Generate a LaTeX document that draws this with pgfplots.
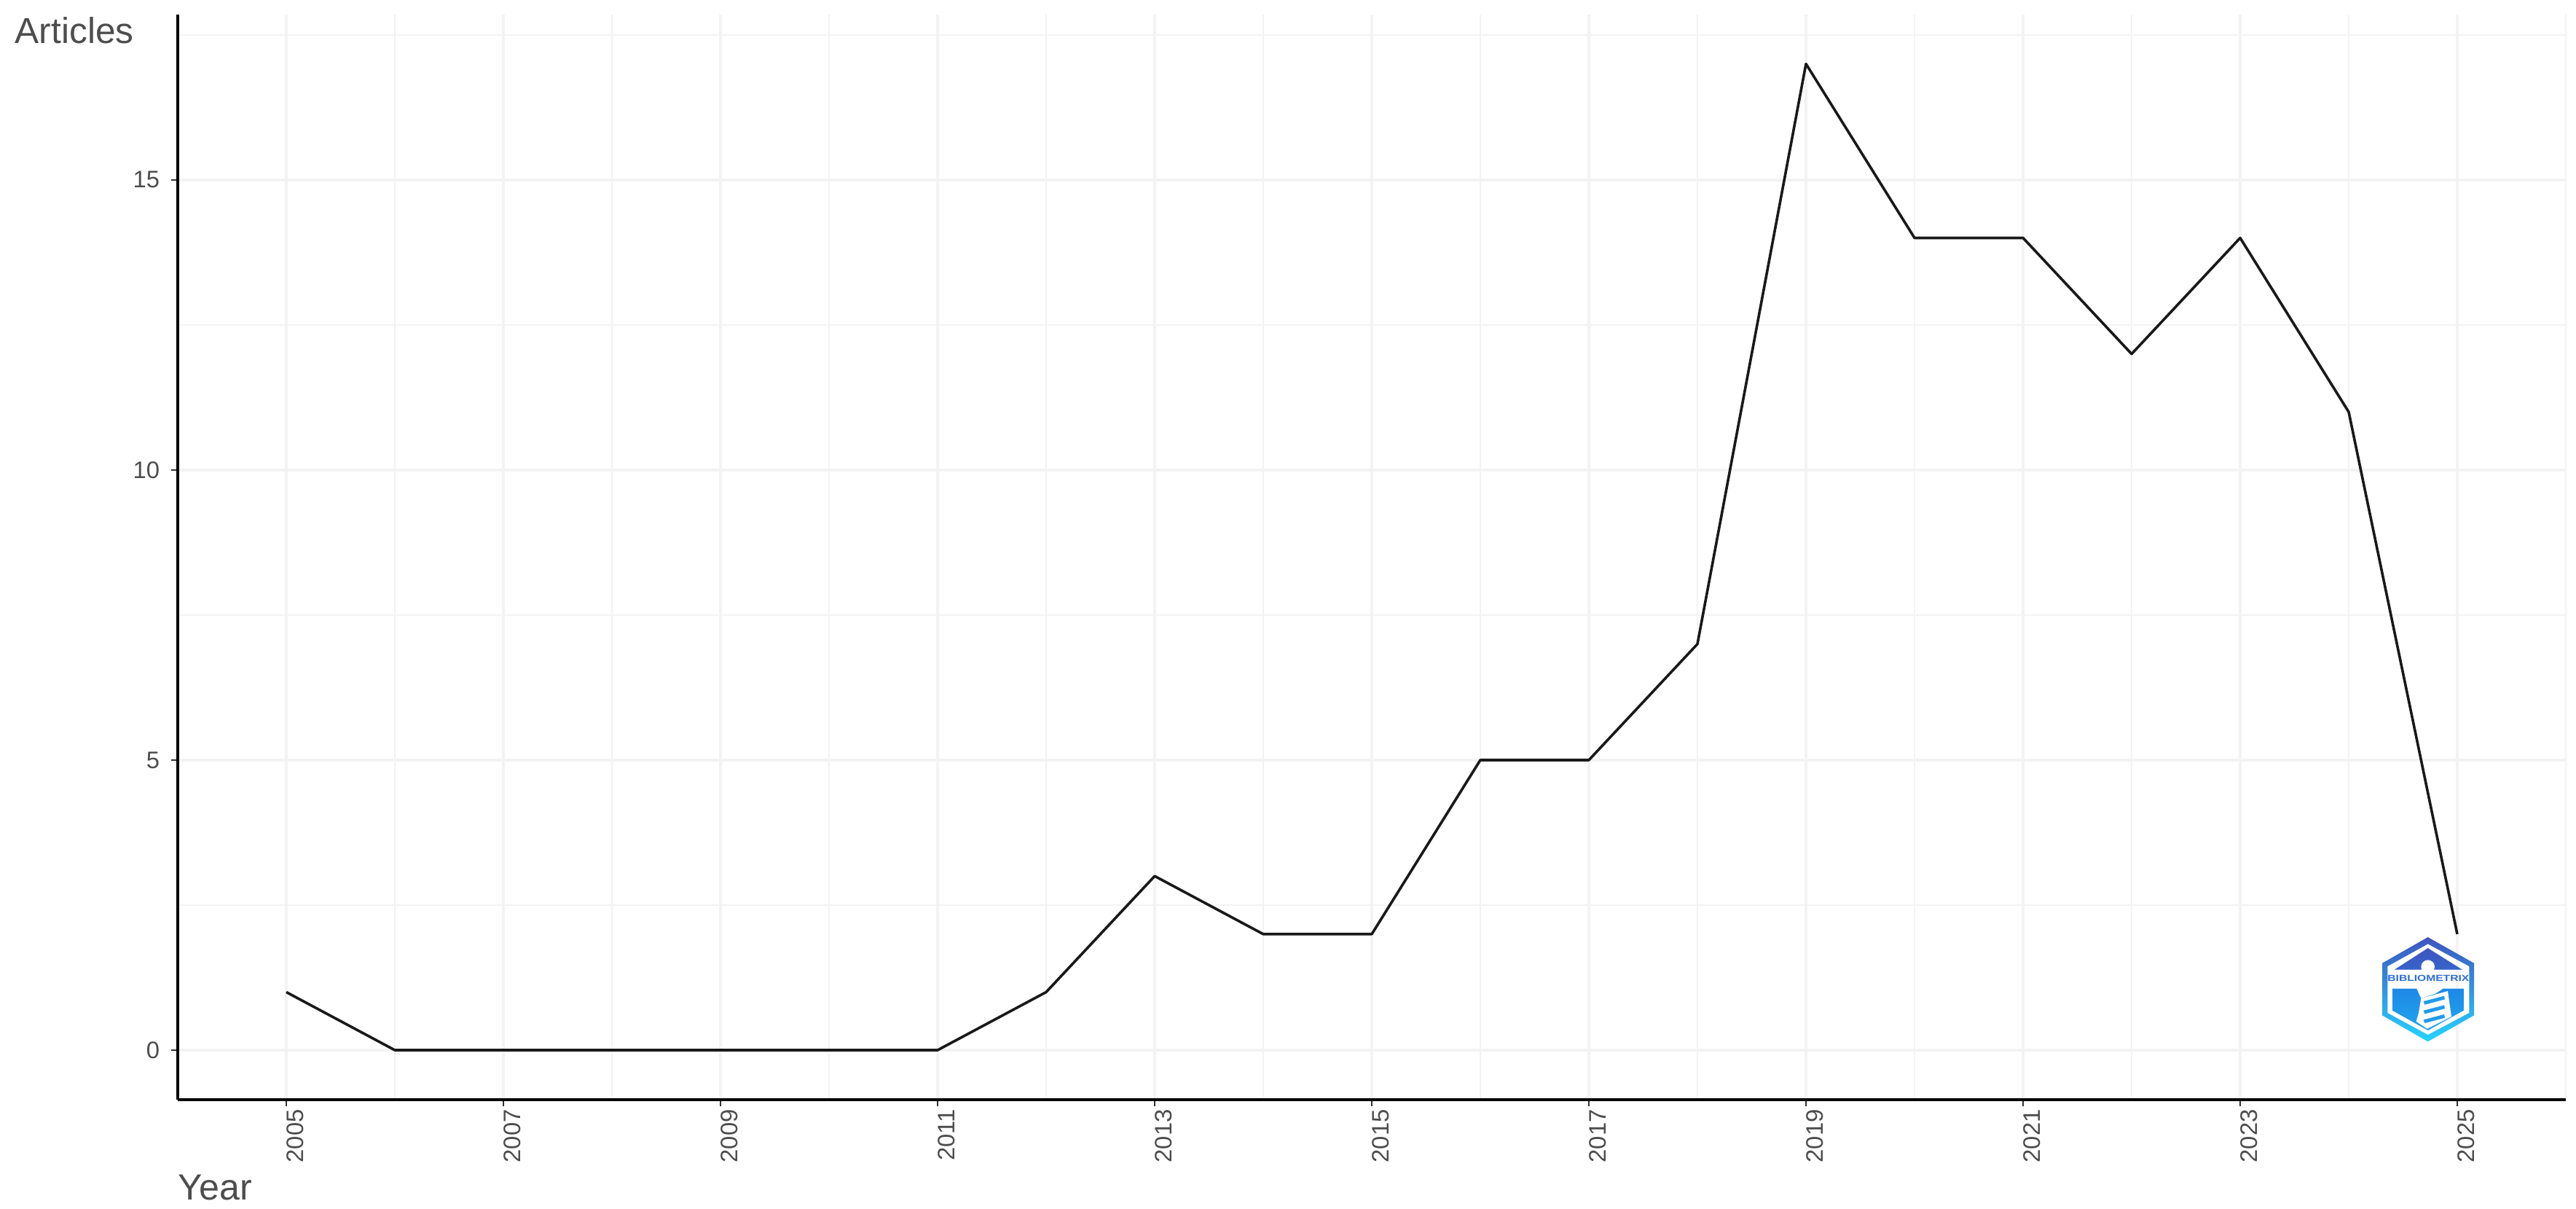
\documentclass[border=0pt]{standalone}
\usepackage{fontspec}
\setmainfont{Liberation Sans}
\usepackage{pgfplots}
\pgfplotsset{compat=1.18}
\definecolor{gridc}{HTML}{F3F3F3}
\definecolor{tickt}{HTML}{4D4D4D}
\definecolor{tickm}{HTML}{333333}
\definecolor{logotop}{HTML}{3F55BE}
\definecolor{logomid}{HTML}{1E88E5}
\definecolor{logobot}{HTML}{26D4FF}
\begin{document}
\begin{tikzpicture}
\path[use as bounding box] (0,0) rectangle (884pt,414.75pt);
\begin{axis}[
  at={(61pt,37.5pt)}, anchor=south west,
  scale only axis, width=819.5pt, height=372.25pt,
  xmin=2004, xmax=2026, ymin=-0.854, ymax=17.85,
  axis x line*=bottom, axis y line*=left,
  axis line style={black, line width=1.2pt, -},
  xtick={2005,2007,...,2025}, ytick={0,5,10,15},
  minor xtick={2004,2006,...,2026}, minor ytick={2.5,7.5,12.5,17.5},
  xmajorgrids, ymajorgrids, xminorgrids, yminorgrids,
  major grid style={gridc, line width=0.85pt},
  minor grid style={gridc, line width=0.45pt},
  tick align=outside,
  major tick length=2.2pt, minor tick length=0pt,
  major tick style={tickm, line width=0.5pt},
  minor tick style={draw=none},
  /pgf/number format/assume math mode=true,
  /pgf/number format/1000 sep={},
  xticklabel style={font=\fontsize{8.2}{9}\selectfont, text=tickt, rotate=90, anchor=east, xshift=2.4pt, yshift=-3.1pt},
  yticklabel style={font=\fontsize{8.2}{9}\selectfont, text=tickt, xshift=-0.5pt},
  xlabel={Year}, ylabel={Articles},
  every axis x label/.style={at={(axis description cs:0,-0.0925)}, anchor=base west, inner sep=0pt, font=\fontsize{12.5}{14}\selectfont, text=tickt},
  every axis y label/.style={at={(axis description cs:-0.0683,0.9735)}, anchor=base west, inner sep=0pt, font=\fontsize{12.4}{14}\selectfont, text=tickt},
  clip=false,
]
\addplot[black!90, line width=0.9pt, line join=round] coordinates {
 (2005,1)(2006,0)(2007,0)(2008,0)(2009,0)(2010,0)(2011,0)(2012,1)(2013,3)(2014,2)
 (2015,2)(2016,5)(2017,5)(2018,7)(2019,17)(2020,14)(2021,14)(2022,12)(2023,14)(2024,11)(2025,2)};
\end{axis}
% Bibliometrix logo
\begin{scope}[shift={(785pt,109.75pt)}, x=0.08333pt, y=-0.08333pt]
  \shade[top color=logotop, middle color=logomid, bottom color=logobot, even odd rule]
    (578,198)--(768,305)--(768,520)--(578,628)--(390,520)--(390,305)--cycle
    (578,226)--(748,318)--(748,510)--(578,600)--(412,510)--(412,318)--cycle;
  \shade[top color=logotop, bottom color=logotop!70!logomid] (578,243)--(720,332)--(440,332)--cycle;
  \shade[top color=logomid, bottom color=logomid!60!logobot] (432,410)--(725,410)--(725,500)--(578,582)--(432,500)--cycle;
  \fill[white] (578,320) circle [radius=28];
  \fill[white] (530,405)--(560,392)--(610,392)--(640,410)--(610,430)--(550,450)--cycle;
  \fill[white] (550,450)--(660,420)--(675,525)--(575,575)--(530,545)--(540,510)--cycle;
  \foreach \yy in {462,500,538}{
    \fill[logomid!75!logobot] (560,\yy)--(645,\yy-22)--(648,\yy-8)--(565,\yy+14)--cycle;
  }
  \node[text=logotop!50!logomid, font=\fontsize{3}{3.5}\selectfont\bfseries, xscale=1.3, inner sep=0pt] at (580,368) {BIBLIOMETRIX};
\end{scope}
\end{tikzpicture}
\end{document}
